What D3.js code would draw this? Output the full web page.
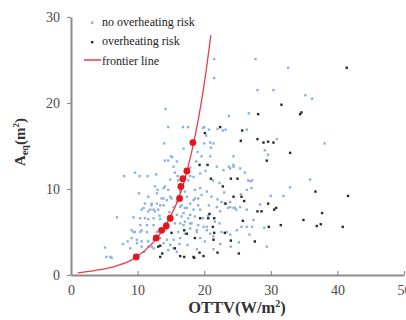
<!DOCTYPE html>
<html>
<head>
<meta charset="utf-8">
<script src="https://cdn.jsdelivr.net/npm/d3@7"></script>
<style>
  body { margin: 0; background: #fff; }
  svg { display: block; }
  svg text { font-family: "Liberation Serif", "Times New Roman", serif !important; }
</style>
</head>
<body>
<div id="chart"></div>
<script>
// OTTV vs Aeq
const xTicks = [0, 10, 20, 30, 40, 50];
const yTicks = [0, 10, 20, 30];

const noRiskPoints = [
  [21.5,25.1],[21.5,22.9],[27.7,25.1],[32.6,24.1],[28.0,21.5],[30.4,21.5],[35.2,20.9],[36.2,20.5],
  [14.2,19.3],[23.7,18.5],[26.7,18.8],[14.6,17.2],[16.8,17.2],[17.6,17.2],[20.0,17.2],[20.7,16.9],
  [22.0,17.0],[22.8,16.8],[23.2,16.9],[14.0,15.3],[16.9,14.7],[20.0,15.3],[20.9,15.4],[21.4,15.3],
  [19.6,13.8],[20.9,13.8],[15.0,13.8],[24.4,13.8],[29.1,14.5],[29.6,14.0],[38.1,15.3],[26.4,16.9],
  [30.9,15.8],[15.2,13.7],[14.6,13.3],[14.1,13.3],[15.9,13.2],[18.8,13.2],
  [23.7,12.6],[24.4,12.6],[26.1,11.9],[26.9,10.9],[27.2,11.0],[35.9,11.1],[32.9,10.2],[30.0,9.2],
  [31.9,9.2],[22.6,8.5],[23.1,8.3],[23.9,8.5],[24.4,7.8],[24.8,7.6],[23.6,7.8],[26.4,7.6],
  [25.6,5.6],[26.4,5.6],[27.2,5.6],[20.4,5.6],[21.4,4.5],[22.6,5.0],[23.4,5.0],[23.9,4.7],
  [24.0,3.3],[29.4,3.3],[26.6,11.0],[27.1,10.1],[26.4,9.9],[27.4,6.4],[21.9,12.6],[22.9,12.2],
  [23.9,12.4],[24.4,12.8],[25.4,12.4],[21.1,9.1],[21.9,7.9],[22.4,7.4],[23.9,7.9],[24.6,7.8],[25.4,7.9],
  [5.1,3.2],[5.3,2.1],[6.1,2.0],[8.0,11.5],[9.6,11.9],[10.3,11.5],[11.5,11.5],[6.9,6.7],
  [9.4,6.7],[8.5,3.9],[9.4,5.0],[10.4,5.0],[9.1,4.3],[9.9,3.7],[10.6,3.3],[11.6,3.3],
  [12.4,3.1],[12.6,10.3],[14.1,10.3],[12.9,9.5],[13.9,8.9],[14.9,9.1],[12.1,8.3],[12.9,8.3],
  [13.9,8.1],[10.9,7.8],[11.9,7.6],[12.6,7.4],[11.6,6.5],[12.4,6.6],[13.4,6.5],[10.4,5.8],
  [11.4,5.8],[12.4,5.8],[12.9,5.0],[14.1,5.2],[13.4,4.3],[14.4,4.1],[14.9,3.5],[15.4,3.1],
  [15.4,12.6],[16.1,11.0],[16.4,9.9],[15.4,7.9],[16.4,7.9],[17.1,7.8],[15.9,7.0],[16.9,7.2],
  [17.9,7.0],[16.4,6.0],[17.1,6.2],[17.9,6.0],[17.4,9.1],[18.4,8.7],[19.1,8.9],[17.6,11.0],
  [18.4,11.4],[19.4,11.8],[19.4,10.1],[20.4,9.7],[18.4,7.6],[19.4,7.6],[18.9,5.2],[19.9,5.6],
  [19.4,4.3],[20.4,5.2],[20.9,4.8],
  [13.9,10.1],[14.6,9.9],[10.4,6.6],[11.1,6.6],[10.6,7.6],[11.6,7.4],[12.4,7.6],[13.1,7.6],
  [11.1,8.3],[12.1,8.1],[13.4,8.1],[13.6,8.9],[14.4,8.7],[9.1,5.2],[9.6,5.0],[10.6,5.2],
  [11.4,5.0],[9.9,4.1],[10.6,3.9],[11.6,3.9],[12.4,4.1],[12.1,3.3],[5.9,2.1],[15.1,8.9],
  [15.9,8.5],[16.6,8.1],[17.4,7.8],[17.9,8.3],[18.6,8.9],[19.1,8.1],[16.6,6.8],[17.6,6.6],
  [18.6,6.8],[15.6,6.0],[16.9,5.8],[18.1,6.0],[19.1,5.8],[16.1,5.0],[17.1,4.8],[15.4,4.1],
  [16.4,4.3],[14.6,2.9],[15.9,2.7],[18.6,9.9],[17.1,9.7],[16.4,9.7],[17.9,5.4],[18.9,5.0],
  [15.6,11.9],[16.0,11.5],[17.9,11.5],[19.8,17.1],[20.3,16.2],[21.0,14.8],[19.0,14.3],[17.9,12.5],
  [20.2,12.1],[21.3,11.0],[22.3,10.7],[23.0,9.6],[20.7,8.1],[21.6,6.2],[22.3,6.0],[24.9,5.2],
  [25.5,9.4],[28.4,8.2],[29.0,5.5],[26.8,4.7],[25.2,3.8],[22.4,3.6],[21.4,3.0],[20.1,3.9],
  [17.5,3.5],[18.9,3.0],[13.3,6.9],[14.2,6.0],[14.8,7.3],[13.0,9.9],[11.6,9.1],[10.2,9.5],
  [12.8,11.7],[14.9,11.1],[8.9,3.1],[7.8,3.6],[11.0,2.7],[13.9,3.7],[16.3,3.6],[19.8,6.6],
  [20.6,6.9],[22.0,8.8],[19.6,9.3]
];

const riskPoints = [
  [41.4,24.1],[31.6,19.8],[28.1,18.7],[34.4,18.7],[34.6,18.9],[22.4,17.2],[20.1,16.5],[25.7,16.8],
  [25.5,15.6],[28.0,15.8],[28.9,15.4],[29.6,15.5],[30.4,15.4],[32.9,14.2],[29.4,13.3],[20.5,12.8],
  [19.3,12.8],[24.0,11.2],[25.0,11.2],[21.0,11.2],[36.7,9.7],[41.6,9.2],[22.8,10.3],[24.4,9.1],
  [25.6,9.1],[26.0,8.6],[23.2,8.3],[28.0,7.4],[28.6,7.4],[29.6,8.3],[30.5,7.6],[30.8,7.8],
  [20.6,6.6],[21.5,6.6],[25.8,6.3],[29.7,5.6],[31.5,5.8],[34.9,6.4],[36.9,5.7],[37.5,5.9],
  [37.7,7.2],[40.8,5.6],[20.8,7.1],[21.5,4.9],[23.1,4.9],[24.0,4.0],[27.6,3.9],[19.9,2.2],
  [22.0,2.6],[25.2,2.5],[13.4,2.1],[13.7,2.5],[16.4,2.2],[17.0,2.1],[18.5,2.0],[19.3,2.6],
  [21.4,4.1],[13.4,3.4],[17.0,5.2],[19.4,6.6],[21.3,5.6],[17.4,4.8],[13.1,3.3],[15.6,3.1],
  [18.6,4.3],[18.4,2.1],[15.1,4.9]
];

const frontierPoints = [
  [9.8,2.1],[12.8,4.3],[13.6,5.2],[14.3,5.7],[14.9,6.6],[16.3,8.9],[16.5,10.3],[16.8,11.2],[17.4,12.1],[18.3,15.4]
];

const frontierLine = [
  [1,0.25],[3,0.45],[5,0.7],[7,1.1],[9,1.7],[10,2.2],[12,3.5],[13,4.4],[14,5.5],[15,6.9],
  [16,8.6],[17,10.9],[18,13.9],[19,17.6],[20,22.2],[21,27.9]
];

const width = 406, height = 320;
const svg = d3.select("#chart").append("svg")
  .attr("width", width)
  .attr("height", height);

let x = d3.scaleLinear().domain([0, 50]).range([71, 404]);
let y = d3.scaleLinear().domain([0, 30]).range([275, 17]);

const axisColor = "#8c8c8c";

// x axis, ticks point inwards
let gx = svg.append("g")
  .attr("transform", "translate(0," + y(0) + ")")
  .call(d3.axisBottom(x).tickValues(xTicks).tickSize(-4).tickSizeOuter(0).tickPadding(10));
gx.select(".domain").attr("stroke", axisColor).attr("stroke-width", 2);
gx.selectAll(".tick line").attr("stroke", axisColor).attr("stroke-width", 1.2);
gx.selectAll(".tick text")
  .attr("font-size", 14)
  .attr("fill", "#4a4a4a");

// y axis
let gy = svg.append("g")
  .attr("transform", "translate(" + x(0) + ",0)")
  .call(d3.axisLeft(y).tickValues(yTicks).tickSize(4).tickSizeOuter(0).tickPadding(7));
gy.select(".domain").attr("stroke", axisColor).attr("stroke-width", 2);
gy.selectAll(".tick line").attr("stroke", axisColor).attr("stroke-width", 1.2);
gy.selectAll(".tick text")
  .attr("font-size", 14)
  .attr("fill", "#4a4a4a");

// scatter
svg.append("g").selectAll("rect.norisk")
  .data(noRiskPoints)
  .enter()
  .append("rect")
  .attr("class", "norisk")
  .attr("x", d => x(d[0]) - 1.2)
  .attr("y", d => y(d[1]) - 1.2)
  .attr("width", 2.4)
  .attr("height", 2.4)
  .attr("fill", "#8cb2e0");

svg.append("g").selectAll("rect.risk")
  .data(riskPoints)
  .enter()
  .append("rect")
  .attr("class", "risk")
  .attr("x", d => x(d[0]) - 1.2)
  .attr("y", d => y(d[1]) - 1.2)
  .attr("width", 2.4)
  .attr("height", 2.4)
  .attr("fill", "#2a2a2a");

// frontier
let line = d3.line()
  .x(d => x(d[0]))
  .y(d => y(d[1]))
  .curve(d3.curveMonotoneX);

svg.append("path")
  .datum(frontierLine)
  .attr("fill", "none")
  .attr("stroke", "#e8404a")
  .attr("stroke-width", 1.3)
  .attr("d", line);

svg.append("g").selectAll("circle")
  .data(frontierPoints)
  .enter()
  .append("circle")
  .attr("cx", d => x(d[0]))
  .attr("cy", d => y(d[1]))
  .attr("r", 3.4)
  .attr("fill", "#e8141c");

// legend
let legend = svg.append("g");
legend.append("rect").attr("x", 91).attr("y", 21.5).attr("width", 2.4).attr("height", 2.4).attr("fill", "#8cb2e0");
legend.append("rect").attr("x", 91).attr("y", 41).attr("width", 2.4).attr("height", 2.4).attr("fill", "#2a2a2a");
legend.append("line").attr("x1", 84).attr("x2", 101).attr("y1", 60).attr("y2", 60)
  .attr("stroke", "#e8404a").attr("stroke-width", 1.5);
const legendLabels = ["no overheating risk", "overheating risk", "frontier line"];
legend.selectAll("text")
  .data(legendLabels)
  .enter()
  .append("text")
  .attr("x", 102)
  .attr("y", (d, i) => 26 + i * 19.3)
  .attr("font-size", 12)
  .attr("fill", "#222")
  .text(d => d);

// axis titles
let xt = svg.append("text")
  .attr("x", 237)
  .attr("y", 313)
  .attr("text-anchor", "middle")
  .attr("font-size", 16.5)
  .attr("font-weight", "bold")
  .attr("fill", "#333");
xt.append("tspan").text("OTTV(W/m");
xt.append("tspan").attr("font-size", 10).attr("dy", -6).text("2");
xt.append("tspan").attr("dy", 6).text(")");

let yt = svg.append("text")
  .attr("transform", "translate(25,142) rotate(-90)")
  .attr("text-anchor", "middle")
  .attr("font-size", 15)
  .attr("font-weight", "bold")
  .attr("fill", "#333");
yt.append("tspan").text("A");
yt.append("tspan").attr("font-size", 10).attr("dy", 3).text("eq");
yt.append("tspan").attr("dy", -3).text("(m");
yt.append("tspan").attr("font-size", 9).attr("dy", -6).text("2");
yt.append("tspan").attr("dy", 6).text(")");
</script>
</body>
</html>
